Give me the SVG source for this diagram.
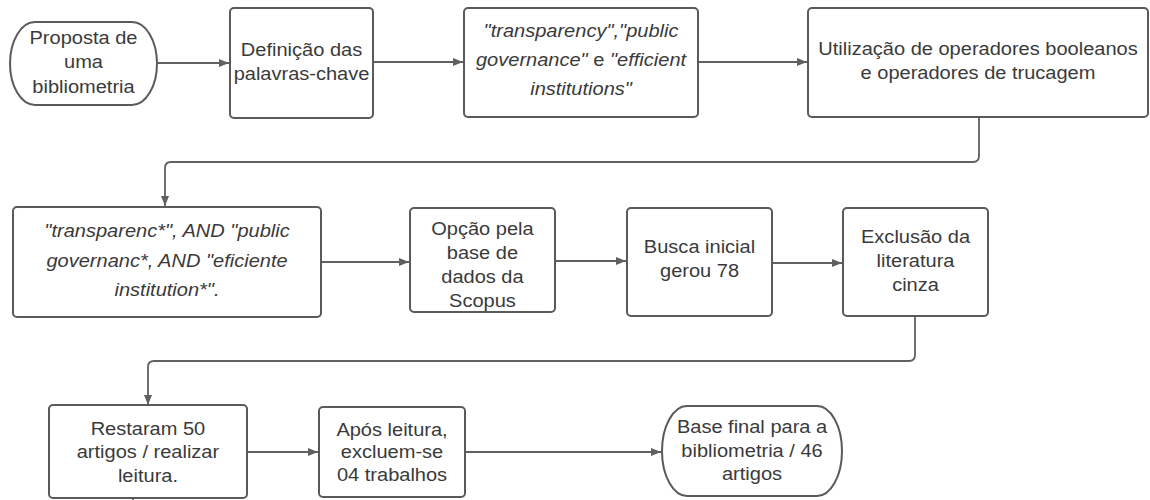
<svg xmlns="http://www.w3.org/2000/svg" width="1150" height="500" viewBox="0 0 1150 500">
<style>
.box{fill:#fff;stroke:#5a5a5a;stroke-width:2}
.t{font-family:"Liberation Sans",Arial,sans-serif;font-size:17.5px;fill:#3a3a3a;text-anchor:middle}
.i{font-style:italic}
.n{font-style:normal}
.c{fill:none;stroke:#606060;stroke-width:1.8}
</style>
<defs>
<marker id="ah" viewBox="0 0 10 8" refX="10" refY="4" markerWidth="10" markerHeight="8" markerUnits="userSpaceOnUse" orient="auto">
<path d="M0,0 L10,4 L0,8 Z" fill="#606060"/>
</marker>
</defs>
<rect width="1150" height="500" fill="#fff"/>
<g id="connectors">
<path class="c" d="M157,63 H229" marker-end="url(#ah)"/>
<path class="c" d="M373,62 H463" marker-end="url(#ah)"/>
<path class="c" d="M698,62 H807" marker-end="url(#ah)"/>
<path class="c" d="M979,117 V156 Q979,162 973,162 H171 Q165,162 165,168 V206" marker-end="url(#ah)"/>
<path class="c" d="M321,262 H409" marker-end="url(#ah)"/>
<path class="c" d="M555,261 H626" marker-end="url(#ah)"/>
<path class="c" d="M772,263 H842" marker-end="url(#ah)"/>
<path class="c" d="M915,316 V355 Q915,361 909,361 H154 Q148,361 148,367 V405" marker-end="url(#ah)"/>
<path class="c" d="M247,452 H318" marker-end="url(#ah)"/>
<path class="c" d="M465,452 H661" marker-end="url(#ah)"/>
<path class="c" d="M133,497 V500"/>
</g>
<g id="n1">
<rect class="box" x="10" y="22" width="147" height="83" rx="25" ry="41.5"/>
<text class="t" transform="matrix(1.145 0 0 1 -12.1 0)" x="83.5"><tspan x="83.5" y="44">Proposta de</tspan><tspan x="83.5" y="68">uma</tspan><tspan x="83.5" y="93">bibliometria</tspan></text>
</g>
<g id="n2">
<rect class="box" x="230" y="8" width="143" height="110" rx="4"/>
<text class="t" transform="matrix(1.145 0 0 1 -43.7 0)"><tspan x="301.5" y="56">Definição das</tspan><tspan x="301.5" y="80">palavras-chave</tspan></text>
</g>
<g id="n3">
<rect class="box" x="464" y="8" width="234" height="109" rx="4"/>
<text class="t i" transform="matrix(1.145 0 0 1 -84.2 0)"><tspan x="581" y="37">"transparency","public</tspan><tspan x="581" y="66">governance"<tspan class="n"> e </tspan>"efficient</tspan><tspan x="581" y="95">institutions"</tspan></text>
</g>
<g id="n4">
<rect class="box" x="808" y="8" width="340" height="109" rx="4"/>
<text class="t" transform="matrix(1.145 0 0 1 -141.8 0)"><tspan x="978" y="55">Utilização de operadores booleanos</tspan><tspan x="978" y="79">e operadores de trucagem</tspan></text>
</g>
<g id="n5">
<rect class="box" x="13" y="207" width="308" height="110" rx="4"/>
<text class="t i" transform="matrix(1.145 0 0 1 -24.2 0)"><tspan x="167" y="237">"transparenc*", AND "public</tspan><tspan x="167" y="267">governanc*, AND "eficiente</tspan><tspan x="167" y="296">institution*".</tspan></text>
</g>
<g id="n6">
<rect class="box" x="410" y="208" width="145" height="104" rx="4"/>
<text class="t" transform="matrix(1.145 0 0 1 -70 0)"><tspan x="482.5" y="235">Opção pela</tspan><tspan x="482.5" y="259">base de</tspan><tspan x="482.5" y="283">dados da</tspan><tspan x="482.5" y="307">Scopus</tspan></text>
</g>
<g id="n7">
<rect class="box" x="627" y="208" width="145" height="108" rx="4"/>
<text class="t" transform="matrix(1.145 0 0 1 -101.4 0)"><tspan x="699.5" y="253">Busca inicial</tspan><tspan x="699.5" y="277">gerou 78</tspan></text>
</g>
<g id="n8">
<rect class="box" x="843" y="208" width="145" height="108" rx="4"/>
<text class="t" transform="matrix(1.145 0 0 1 -132.7 0)"><tspan x="915.5" y="243">Exclusão da</tspan><tspan x="915.5" y="267">literatura</tspan><tspan x="915.5" y="291">cinza</tspan></text>
</g>
<g id="n9">
<rect class="box" x="49" y="405" width="198" height="93" rx="4"/>
<text class="t" transform="matrix(1.145 0 0 1 -21.5 0)"><tspan x="148" y="435">Restaram 50</tspan><tspan x="148" y="458">artigos / realizar</tspan><tspan x="148" y="482">leitura.</tspan></text>
</g>
<g id="n10">
<rect class="box" x="319" y="407" width="146" height="90" rx="4"/>
<text class="t" transform="matrix(1.145 0 0 1 -56.8 0)"><tspan x="392" y="436">Após leitura,</tspan><tspan x="392" y="458">excluem-se</tspan><tspan x="392" y="481">04 trabalhos</tspan></text>
</g>
<g id="n11">
<rect class="box" x="662" y="406" width="180" height="90" rx="25" ry="45"/>
<text class="t" transform="matrix(1.145 0 0 1 -109 0)"><tspan x="752" y="433">Base final para a</tspan><tspan x="752" y="457">bibliometria / 46</tspan><tspan x="752" y="480">artigos</tspan></text>
</g>
</svg>
